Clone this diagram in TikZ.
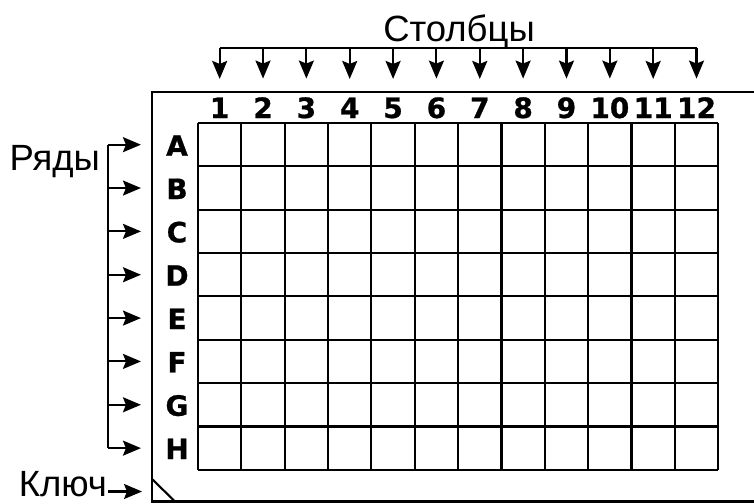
\documentclass[tikz,border=0pt]{standalone}
\usepackage{fontspec}
\setmainfont{Liberation Sans}
\newfontfamily\platefont[BoldFeatures={FakeBold=0.8}]{DejaVu Sans}
\usetikzlibrary{arrows.meta,calc}

\begin{document}
\begin{tikzpicture}[x=1pt,y=-1pt,line width=2.1pt,
  every node/.style={inner sep=0pt},
  bigtext/.style={font=\fontsize{36.5}{40}\selectfont},
  platelabel/.style={font=\platefont\bfseries\fontsize{28}{30}\selectfont, anchor=base},
  pointer/.style={-{Stealth[length=18pt,width=15pt,inset=3pt]}}]
\useasboundingbox (0,0) rectangle (754,503);

\draw (754,92) -- (152,92) -- (152,501.5) -- (754,501.5);
\draw (152,479) -- (175,501.5);

\foreach \i in {0,...,12}
  \draw ({198+43.35*\i},123) -- ({198+43.35*\i},469.8);
\foreach \j in {0,...,8}
  \draw (198,{123+43.35*\j}) -- (718.2,{123+43.35*\j});

% columns
\node[bigtext, anchor=base] (cols) at (459,41.5) {Столбцы};
\foreach \c in {1,...,12} {
  \node[platelabel] (col\c) at ({198+43.35*(\c-0.5)},118) {\c};
  \coordinate (top\c) at ({198+43.35*(\c-0.5)},48);
  \draw[pointer, shorten >=17.6pt] (top\c) -- (col\c.north);
}
\draw (top1) -- (top12);

% rows
\node[bigtext, anchor=base east] (rows) at (101,170.5) {Ряды};
\foreach \r [count=\k from 0] in {A,B,C,D,E,F,G,H} {
  \node[platelabel, minimum width=24pt] (row\r) at (177,{123+43.35*(\k+0.5)+11}) {\r};
  \coordinate (left\r) at (108,{123+43.35*(\k+0.5)});
  \draw[pointer, shorten >=23pt] (left\r) -- (left\r -| row\r.west);
}
\draw (leftA) -- (leftH);

% key corner
\node[bigtext, anchor=base east] (key) at (108,496) {Ключ};
\coordinate (corner) at (152,491.5);
\draw[pointer, shorten >=10pt] (key.east |- corner) -- (corner);
\end{tikzpicture}
\end{document}
